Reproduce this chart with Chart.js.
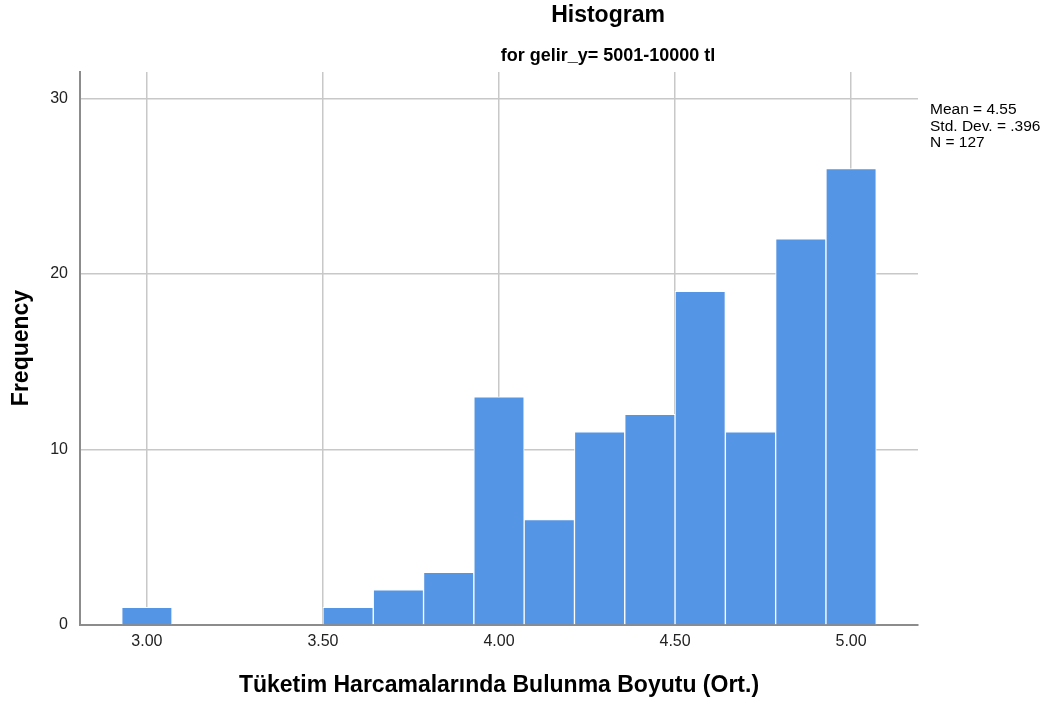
<!DOCTYPE html>
<html>
<head>
<meta charset="utf-8">
<script src="https://cdn.jsdelivr.net/npm/chart.js@4/dist/chart.umd.min.js"></script>
<style>
  html, body { margin: 0; padding: 0; background: #fff; }
  #wrap { width: 1054px; height: 704px; }
</style>
</head>
<body>
<div id="wrap"><canvas id="histChart" width="1054" height="704"></canvas></div>
<script>
// histogram bins (centres, width 1/7) and counts
const binCenters = [3.0, 3.5714, 3.7143, 3.8571, 4.0, 4.1429, 4.2857, 4.4286, 4.5714, 4.7143, 4.8571, 5.0];
const frequencies = [1, 1, 2, 3, 13, 6, 11, 12, 19, 11, 22, 26];
const xTicks = [3.0, 3.5, 4.0, 4.5, 5.0];
const yTicks = [0, 10, 20, 30];
const statsLines = ['Mean = 4.55', 'Std. Dev. = .396', 'N = 127'];

const font = '"Liberation Sans", Arial, sans-serif';

// titles and the stats box, drawn around the plot area
const textPlugin = {
  id: 'spssText',
  afterDraw(chart) {
    const c = chart.ctx;
    const area = chart.chartArea;
    c.save();
    c.fillStyle = '#000';
    c.textAlign = 'center';
    c.textBaseline = 'middle';
    c.font = 'bold 23px ' + font;
    c.fillText('Histogram', 608, 16);
    c.font = 'bold 18px ' + font;
    c.fillText('for gelir_y= 5001-10000 tl', 608, 56);

    c.font = 'bold 23px ' + font;
    c.fillText('Tüketim Harcamalarında Bulunma Boyutu (Ort.)', (area.left + area.right) / 2, 686);

    c.save();
    c.translate(22, 348);
    c.rotate(-Math.PI / 2);
    c.fillText('Frequency', 0, 0);
    c.restore();

    c.textAlign = 'left';
    c.font = '15.5px ' + font;
    statsLines.forEach((s, i) => c.fillText(s, area.right + 12, 110 + i * 16.5));
    c.restore();
  }
};

new Chart(document.getElementById('histChart'), {
  type: 'bar',
  data: {
    datasets: [{
      data: binCenters.map((x, i) => ({ x: x, y: frequencies[i] })),
      backgroundColor: '#5595E5',
      borderColor: '#ffffff',
      borderWidth: 1,
      borderSkipped: 'bottom',
      barPercentage: 1,
      categoryPercentage: 1
    }]
  },
  options: {
    responsive: false,
    animation: false,
    layout: { padding: { left: 0, top: 72, right: 136, bottom: 0 } },
    plugins: { legend: { display: false }, tooltip: { enabled: false } },
    scales: {
      x: {
        type: 'linear',
        min: 2.81,
        max: 5.19,
        offset: false,
        afterFit: s => { s.height = 79; },
        afterBuildTicks: s => { s.ticks = xTicks.map(v => ({ value: v })); },
        ticks: {
          padding: 7,
          color: '#222',
          font: { family: font, size: 16 },
          callback: v => Number(v).toFixed(2)
        },
        grid: { offset: false, color: '#c8c8c8', lineWidth: 1.5, drawTicks: false },
        border: { color: '#8c8c8c', width: 2 }
      },
      y: {
        min: 0,
        max: 31.5,
        afterFit: s => { s.width = 80; },
        afterBuildTicks: s => { s.ticks = yTicks.map(v => ({ value: v })); },
        ticks: {
          padding: 12,
          color: '#222',
          font: { family: font, size: 16 }
        },
        grid: { color: '#c8c8c8', lineWidth: 1.5, drawTicks: false },
        border: { color: '#8c8c8c', width: 2 }
      }
    }
  },
  plugins: [textPlugin]
});
</script>
</body>
</html>
